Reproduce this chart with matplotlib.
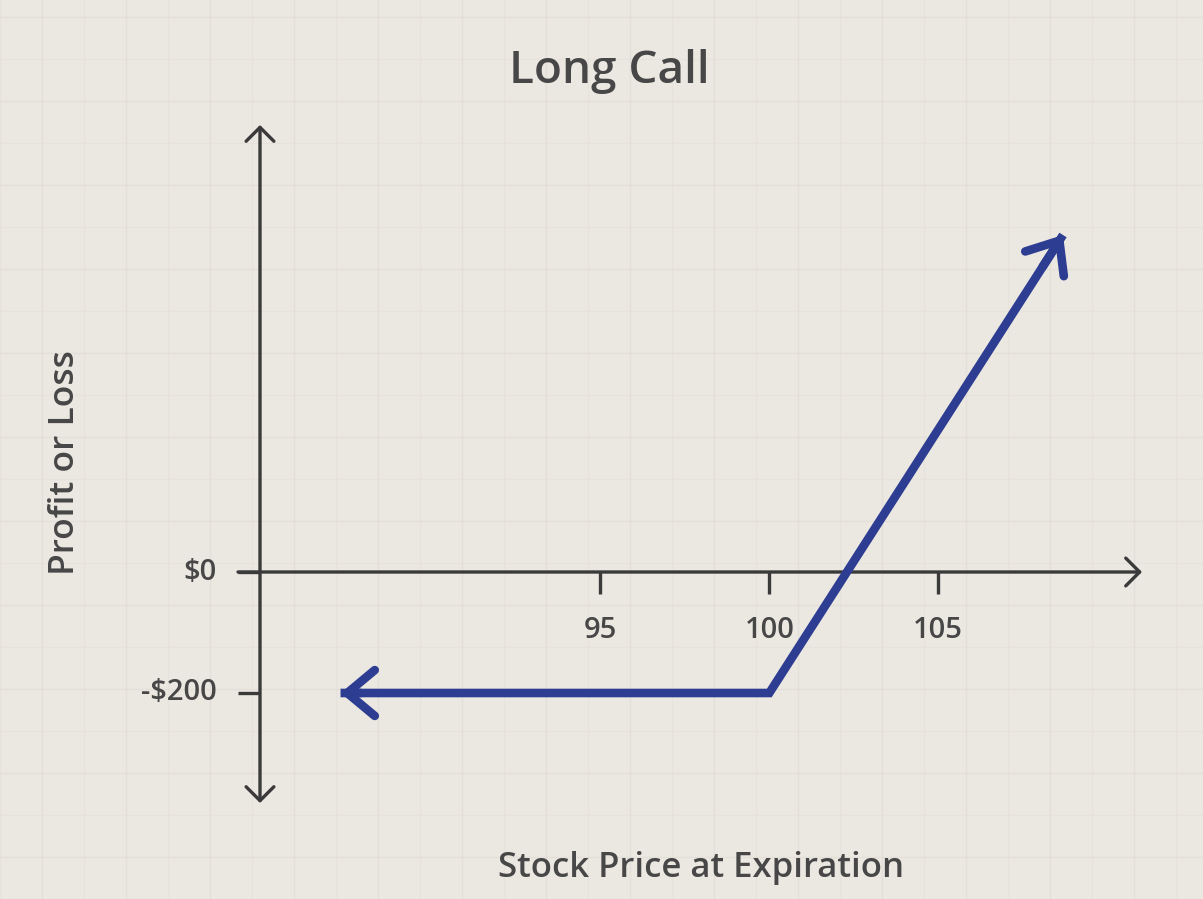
import matplotlib
matplotlib.use("Agg")
import matplotlib.pyplot as plt
import numpy as np

# ---- data ----
title = "Long Call"
x_label = "Stock Price at Expiration"
y_label = "Profit or Loss"
x_ticks = [95, 100, 105]
x_tick_labels = ["95", "100", "105"]
y_ticks = [0, -200]
y_tick_labels = ["$0", "-$200"]
payoff_price = [87.3, 100, 108.7]
payoff_pl = [-200, -200, 557]

# ---- style ----
BG = "#ebe7e1"
AXC = "#3a3a3a"
TXT = "#474747"
BLUE = "#2d3d92"
plt.rcParams['font.family'] = ['Open Sans', 'DejaVu Sans']

W, H = 1203, 899
fig = plt.figure(figsize=(W / 100, H / 100), dpi=100, facecolor=BG)
ax = fig.add_axes([0, 0, 1, 1])
ax.set_facecolor(BG)
ax.axis("off")

# pixel <-> data mapping (x: 95 -> 601.7 px, 105 -> 939.3 px; y: 0 -> 572 px, -200 -> 693 px)
ppx = 33.76
ppy = 0.605
ax.set_xlim(100 - 769.3 / ppx, 100 + (W - 769.3) / ppx)
ax.set_ylim(-(H - 572) / ppy, 572 / ppy)

# faint graph-paper grid
gx = np.arange(100 - 769.3 / ppx, 100 + (W - 769.3) / ppx, 42 / ppx)
gy = np.arange(-(H - 572) / ppy, 572 / ppy, 42 / ppy)
for i, g in enumerate(gx):
    ax.axvline(g, color="#dcd7d0", lw=1.0, alpha=0.45 if i % 2 else 0.25, zorder=0)
for i, g in enumerate(gy):
    ax.axhline(g, color="#dcd7d0", lw=1.0, alpha=0.45 if i % 2 else 0.25, zorder=0)

yaxis_x = 100 - (769.3 - 260) / ppx
x_left = 100 - (769.3 - 238) / ppx
x_right = 100 + (1142 - 769.3) / ppx
y_top = (572 - 125) / ppy
y_bot = (572 - 803) / ppy

ax_arrow = dict(arrowstyle="->,head_length=0.5,head_width=0.5", color=AXC,
                lw=2.4, mutation_scale=20, shrinkA=0, shrinkB=0)
# x axis
ax.annotate("", xy=(x_right, 0), xytext=(x_left, 0), arrowprops=ax_arrow, zorder=2)
# y axis (both directions)
ax.annotate("", xy=(yaxis_x, y_top), xytext=(yaxis_x, 0), arrowprops=ax_arrow, zorder=2)
ax.annotate("", xy=(yaxis_x, y_bot), xytext=(yaxis_x, 0), arrowprops=ax_arrow, zorder=2)

# x ticks (hanging below the axis)
for t, lab in zip(x_ticks, x_tick_labels):
    ax.plot([t, t], [0, -22 / ppy], color=AXC, lw=2.4, solid_capstyle="butt", zorder=2)
    ax.text(t, -(630 - 572) / ppy, lab, ha="center", va="center", fontsize=21,
            color=TXT, fontweight="semibold")

# y ticks (to the left of the axis)
for t, lab in zip(y_ticks, y_tick_labels):
    ax.plot([x_left, yaxis_x], [t, t], color=AXC, lw=2.4, solid_capstyle="butt", zorder=2)
    ax.text(100 - (769.3 - 217) / ppx, t, lab, ha="right", va="center", fontsize=21,
            color=TXT, fontweight="semibold")

# payoff line
ax.plot(payoff_price, payoff_pl, color=BLUE, lw=6.2, solid_joinstyle="miter",
        solid_capstyle="butt", zorder=3)
blue_arrow = dict(arrowstyle="->,head_length=0.9,head_width=0.75", color=BLUE,
                  lw=6.2, mutation_scale=22, shrinkA=0, shrinkB=0,
                  joinstyle="miter")
ax.annotate("", xy=(payoff_price[0], payoff_pl[0]),
            xytext=(payoff_price[0] + 0.6, payoff_pl[0]), arrowprops=blue_arrow, zorder=3)
dx = payoff_price[-1] - payoff_price[-2]
dy = payoff_pl[-1] - payoff_pl[-2]
ax.annotate("", xy=(payoff_price[-1], payoff_pl[-1]),
            xytext=(payoff_price[-1] - 0.07 * dx, payoff_pl[-1] - 0.07 * dy),
            arrowprops=blue_arrow, zorder=3)

# labels
fig.text(609 / W, 1 - 72 / H, title, ha="center", va="center", fontsize=33,
         color=TXT, fontweight="semibold")
fig.text(701 / W, 1 - 868 / H, x_label, ha="center", va="center", fontsize=25,
         color=TXT, fontweight="semibold")
fig.text(65 / W, 1 - 463 / H, y_label, ha="center", va="center", fontsize=25.5,
         color=TXT, fontweight="semibold", rotation=90)

fig.savefig("out.png", dpi=100, facecolor=BG)
